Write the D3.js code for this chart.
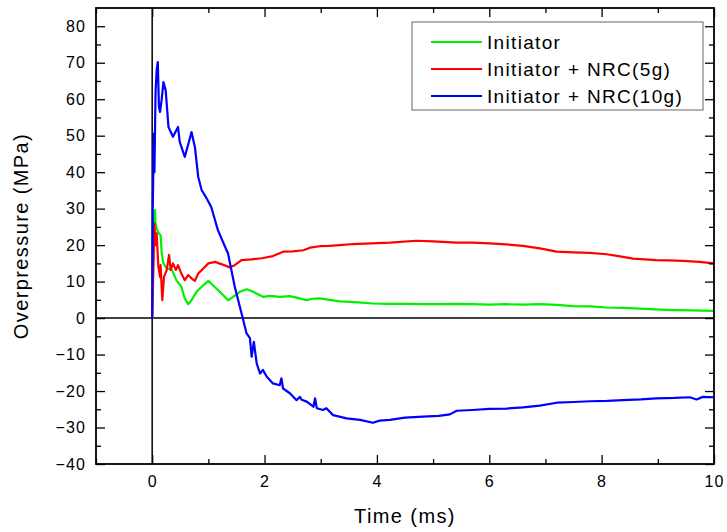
<!DOCTYPE html>
<html>
<head>
<meta charset="utf-8">
<script src="https://cdn.jsdelivr.net/npm/d3@7"></script>
<style>
  body { margin: 0; background: #fff; }
  text { font-family: "Liberation Sans", Arial, sans-serif; fill: #000; letter-spacing: 0.07em; }
  .axis text { font-size: 16px; }
  .axis line { stroke: #000; stroke-width: 1.3; }
  .axis path { display: none; }
</style>
</head>
<body>
<div id="chart"></div>
<script>
// DATA (time in ms, overpressure in MPa)

const seriesNames = ["Initiator", "Initiator + NRC(5g)", "Initiator + NRC(10g)"];
const seriesColors = ["#00f000", "#ff0000", "#0000ff"];

const initT = [0, 0.03, 0.05, 0.06, 0.08, 0.11, 0.15, 0.17, 0.2, 0.26, 0.35, 0.43, 0.52, 0.58, 0.64, 0.7, 0.79, 0.88, 1.0, 1.08, 1.17, 1.26, 1.35, 1.44, 1.56, 1.68, 1.8, 1.98, 2.1, 2.27, 2.45, 2.57, 2.75, 2.85, 2.98, 3.16, 3.34, 3.6, 3.93, 4.2, 4.5, 4.8, 5.12, 5.4, 5.7, 6.0, 6.3, 6.6, 6.9, 7.2, 7.49, 7.8, 8.09, 8.4, 8.68, 8.95, 9.27, 9.6, 10.0];
const initV = [0, 27, 29.6, 25.9, 24.5, 23.4, 22.7, 17.7, 15.0, 13.6, 13.2, 10.4, 8.6, 5.4, 3.8, 4.9, 7.2, 8.6, 10.2, 9.0, 7.7, 6.3, 4.9, 5.8, 7.2, 7.9, 7.2, 5.8, 6.1, 5.8, 6.0, 5.6, 4.9, 5.3, 5.4, 5.0, 4.6, 4.4, 4.0, 3.9, 3.9, 3.8, 3.8, 3.9, 3.8, 3.7, 3.8, 3.7, 3.8, 3.6, 3.3, 3.2, 2.9, 2.8, 2.6, 2.4, 2.2, 2.1, 2.0];

const nrc5T = [0, 0.04, 0.06, 0.08, 0.11, 0.14, 0.15, 0.18, 0.21, 0.26, 0.3, 0.33, 0.37, 0.42, 0.46, 0.52, 0.58, 0.64, 0.7, 0.76, 0.82, 0.91, 1.0, 1.12, 1.23, 1.38, 1.47, 1.59, 1.77, 1.95, 2.15, 2.33, 2.5, 2.69, 2.81, 2.98, 3.15, 3.34, 3.58, 3.9, 4.23, 4.7, 5.0, 5.42, 5.7, 6.0, 6.3, 6.6, 6.9, 7.2, 7.5, 7.79, 8.09, 8.3, 8.56, 8.97, 9.2, 9.45, 9.74, 10.0];
const nrc5V = [0, 25.9, 20.0, 23.2, 14.1, 11.3, 14.5, 4.9, 11.3, 13.2, 17.3, 13.2, 15.0, 13.2, 14.5, 12.2, 10.4, 11.8, 10.9, 10.2, 12.2, 13.6, 15.0, 15.4, 14.8, 13.9, 14.5, 15.9, 16.1, 16.4, 17.0, 18.2, 18.3, 18.6, 19.3, 19.7, 19.8, 20.0, 20.3, 20.5, 20.7, 21.2, 21.0, 20.7, 20.7, 20.5, 20.2, 19.8, 19.1, 18.2, 18.0, 17.9, 17.5, 17.0, 16.3, 15.9, 15.8, 15.7, 15.4, 15.0];

const nrc10T = [0, 0.01, 0.03, 0.04, 0.06, 0.08, 0.1, 0.12, 0.14, 0.17, 0.2, 0.24, 0.29, 0.37, 0.43, 0.46, 0.49, 0.58, 0.64, 0.7, 0.76, 0.82, 0.88, 0.97, 1.05, 1.17, 1.27, 1.35, 1.47, 1.59, 1.68, 1.74, 1.77, 1.81, 1.86, 1.92, 1.97, 2.04, 2.15, 2.27, 2.3, 2.33, 2.45, 2.57, 2.63, 2.66, 2.75, 2.87, 2.9, 2.93, 3.04, 3.1, 3.22, 3.46, 3.7, 3.93, 4.05, 4.23, 4.5, 4.82, 5.1, 5.3, 5.42, 5.7, 6.0, 6.3, 6.6, 6.9, 7.2, 7.5, 7.79, 8.1, 8.38, 8.7, 8.97, 9.3, 9.57, 9.69, 9.8, 10.0];
const nrc10V = [0, 30, 50.6, 40, 62, 68, 70.2, 58, 56.5, 60, 64.7, 62.5, 52.4, 49.7, 51.5, 52.4, 48.3, 44.2, 47.5, 51.0, 46.9, 38.7, 35.1, 32.8, 30.5, 24.1, 20.5, 17.7, 8.6, 1.3, -4.2, -5.5, -10.6, -6.5, -12.4, -15.2, -14.2, -16.1, -17.9, -18.4, -16.5, -19.3, -20.6, -22.5, -21.6, -22.4, -22.9, -24.3, -22.0, -24.7, -25.2, -24.7, -26.6, -27.5, -27.9, -28.7, -28.1, -27.9, -27.3, -27.0, -26.8, -26.4, -25.4, -25.2, -24.9, -24.8, -24.5, -24.0, -23.2, -23.0, -22.8, -22.7, -22.5, -22.3, -22.0, -21.9, -21.7, -22.3, -21.6, -21.7];

const xMajor = [0, 2, 4, 6, 8, 10];
const xMinor = [-1, 1, 3, 5, 7, 9];
const yMajor = [-40, -30, -20, -10, 0, 10, 20, 30, 40, 50, 60, 70, 80];
const yMinor = [-35, -25, -15, -5, 5, 15, 25, 35, 45, 55, 65, 75];

// SET UP

const chartwidth = 727;
const chartheight = 532;
const margin = {top: 8, left: 96, right: 13, bottom: 68};

const svg = d3.select("#chart")
    .append("svg")
    .attr("width", chartwidth)
    .attr("height", chartheight);

const series = [
    {name: seriesNames[0], color: seriesColors[0], pts: initT.map((t, i) => [t, initV[i]])},
    {name: seriesNames[1], color: seriesColors[1], pts: nrc5T.map((t, i) => [t, nrc5V[i]])},
    {name: seriesNames[2], color: seriesColors[2], pts: nrc10T.map((t, i) => [t, nrc10V[i]])}
];

// SCALES

const xScale = d3.scaleLinear()
    .domain([-1, 10])
    .range([margin.left, chartwidth - margin.right]);

const yScale = d3.scaleLinear()
    .domain([-40, 85])
    .range([chartheight - margin.bottom, margin.top]);

const plotBottom = chartheight - margin.bottom;
const plotRight = chartwidth - margin.right;

// ZERO LINES

svg.append("line")
    .attr("x1", xScale(0)).attr("x2", xScale(0))
    .attr("y1", margin.top).attr("y2", plotBottom)
    .attr("stroke", "#000").attr("stroke-width", 1.5);

svg.append("line")
    .attr("x1", margin.left).attr("x2", plotRight)
    .attr("y1", yScale(0)).attr("y2", yScale(0))
    .attr("stroke", "#000").attr("stroke-width", 1.5);

// LINES

const line = d3.line()
    .x(d => xScale(d[0]))
    .y(d => yScale(d[1]));

svg.selectAll("path.series")
    .data(series)
    .enter()
    .append("path")
        .attr("class", "series")
        .attr("d", d => line(d.pts))
        .attr("fill", "none")
        .attr("stroke", d => d.color)
        .attr("stroke-width", 2.2)
        .attr("stroke-linejoin", "round");

// AXES (ticks point inward, all four sides)

svg.append("g")
    .attr("class", "axis")
    .attr("transform", `translate(0,${plotBottom})`)
    .call(d3.axisBottom(xScale).tickValues(xMajor).tickSizeInner(-9).tickSizeOuter(0).tickPadding(12));

svg.append("g")
    .attr("class", "axis")
    .attr("transform", `translate(0,${plotBottom})`)
    .call(d3.axisBottom(xScale).tickValues(xMinor).tickSizeInner(-5).tickSizeOuter(0).tickFormat(""));

svg.append("g")
    .attr("class", "axis")
    .attr("transform", `translate(0,${margin.top})`)
    .call(d3.axisTop(xScale).tickValues(xMajor).tickSizeInner(-9).tickSizeOuter(0).tickFormat(""));

svg.append("g")
    .attr("class", "axis")
    .attr("transform", `translate(0,${margin.top})`)
    .call(d3.axisTop(xScale).tickValues(xMinor).tickSizeInner(-5).tickSizeOuter(0).tickFormat(""));

svg.append("g")
    .attr("class", "axis")
    .attr("transform", `translate(${margin.left},0)`)
    .call(d3.axisLeft(yScale).tickValues(yMajor).tickSizeInner(-9).tickSizeOuter(0).tickPadding(10));

svg.append("g")
    .attr("class", "axis")
    .attr("transform", `translate(${margin.left},0)`)
    .call(d3.axisLeft(yScale).tickValues(yMinor).tickSizeInner(-5).tickSizeOuter(0).tickFormat(""));

svg.append("g")
    .attr("class", "axis")
    .attr("transform", `translate(${plotRight},0)`)
    .call(d3.axisRight(yScale).tickValues(yMajor).tickSizeInner(-9).tickSizeOuter(0).tickFormat(""));

svg.append("g")
    .attr("class", "axis")
    .attr("transform", `translate(${plotRight},0)`)
    .call(d3.axisRight(yScale).tickValues(yMinor).tickSizeInner(-5).tickSizeOuter(0).tickFormat(""));

// FRAME

svg.append("rect")
    .attr("x", margin.left)
    .attr("y", margin.top)
    .attr("width", plotRight - margin.left)
    .attr("height", plotBottom - margin.top)
    .attr("fill", "none")
    .attr("stroke", "#000")
    .attr("stroke-width", 1.8);

// AXIS LABELS

svg.append("text")
    .attr("x", (margin.left + plotRight) / 2)
    .attr("y", 523)
    .attr("text-anchor", "middle")
    .style("font-size", "20px")
    .text("Time (ms)");

svg.append("text")
    .attr("x", -(margin.top + plotBottom) / 2)
    .attr("y", 28)
    .attr("text-anchor", "middle")
    .attr("transform", "rotate(-90)")
    .style("font-size", "20px")
    .text("Overpressure (MPa)");

// LEGEND

const legend = svg.append("g")
    .attr("transform", "translate(412,22)");

legend.append("rect")
    .attr("width", 291)
    .attr("height", 88)
    .attr("fill", "#fff")
    .attr("stroke", "#666")
    .attr("stroke-width", 1);

const item = legend.selectAll("g.item")
    .data(series)
    .enter()
    .append("g")
        .attr("class", "item")
        .attr("transform", (d, i) => `translate(0,${20 + i * 27})`);

item.append("line")
    .attr("x1", 19).attr("x2", 70)
    .attr("stroke", d => d.color)
    .attr("stroke-width", 2.2);

item.append("text")
    .attr("x", 75)
    .attr("y", 6.5)
    .style("font-size", "19px")
    .text(d => d.name);
</script>
</body>
</html>
